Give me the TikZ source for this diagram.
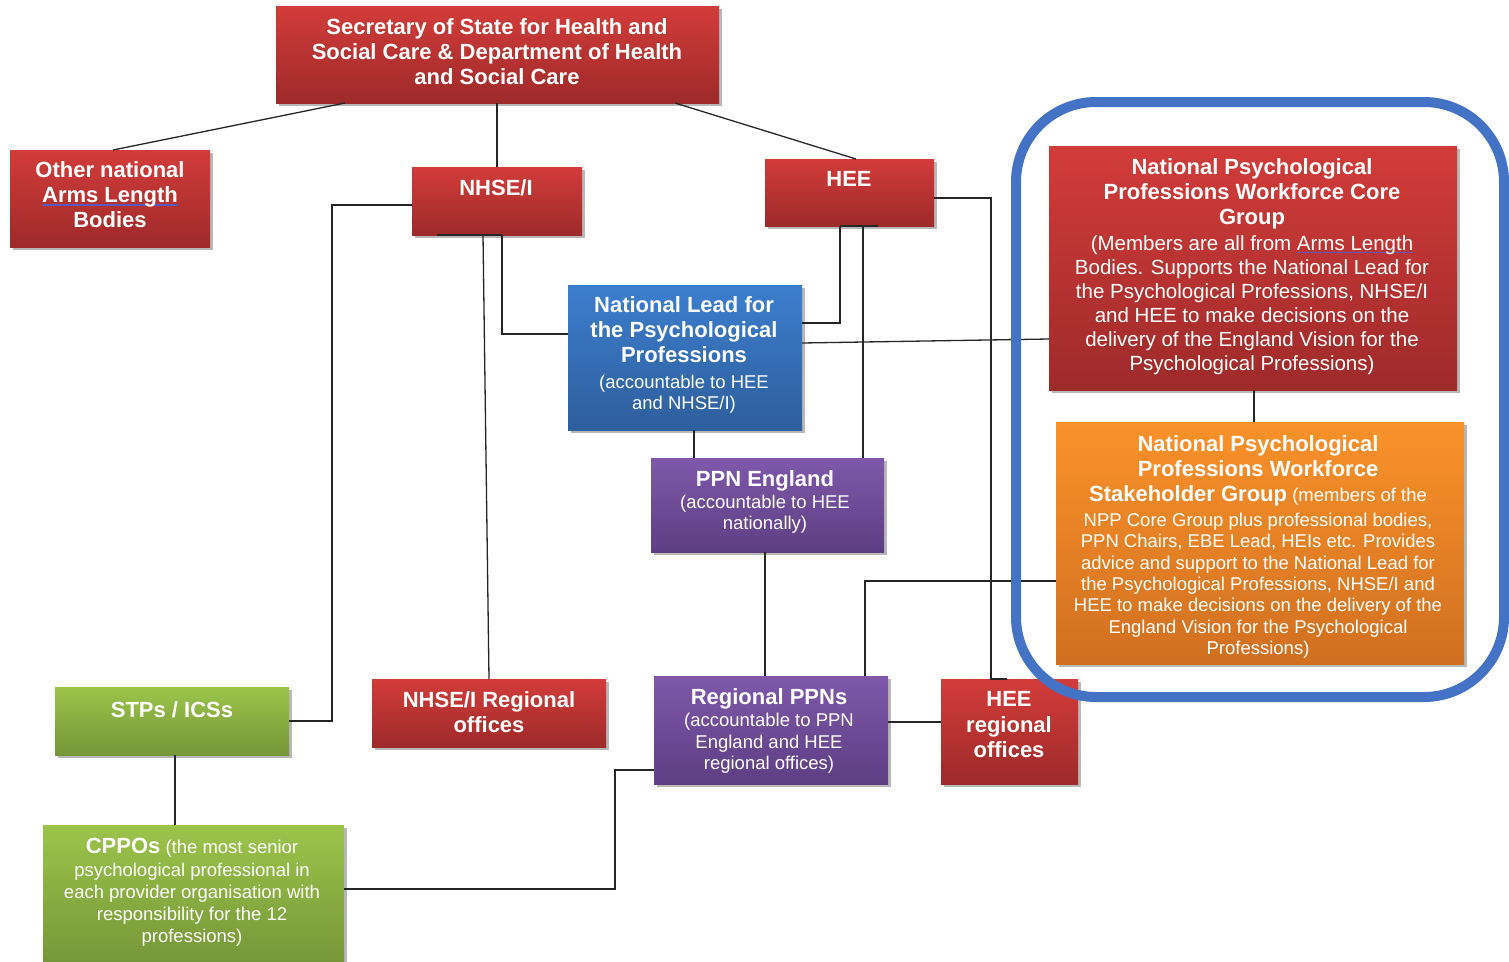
\documentclass[tikz,border=0pt]{standalone}
\usepackage{fontspec}
\setmainfont{Liberation Sans}
\usetikzlibrary{shadows}
\definecolor{redT}{RGB}{210,60,58}
\definecolor{redB}{RGB}{158,42,42}
\definecolor{blueT}{RGB}{60,126,206}
\definecolor{blueB}{RGB}{46,94,156}
\definecolor{purT}{RGB}{127,88,170}
\definecolor{purB}{RGB}{93,62,131}
\definecolor{orT}{RGB}{250,146,42}
\definecolor{orB}{RGB}{208,111,32}
\definecolor{grT}{RGB}{156,196,74}
\definecolor{grB}{RGB}{117,150,56}
\definecolor{frameblue}{RGB}{68,114,196}
\definecolor{ulc}{RGB}{90,90,190}
\newcommand\hdfont{\fontsize{22}{25}\selectfont\bfseries}
\newcommand\bdfont{\fontsize{18.5}{21.3}\selectfont}
\newsavebox\myulbox
\newcommand\spellul[1]{\leavevmode\sbox\myulbox{#1}\rlap{\textcolor{ulc}{\rule[-0.3ex]{\wd\myulbox}{1.6pt}}}\usebox\myulbox}
\begin{document}
\begin{tikzpicture}[x=1pt,y=-1pt,
  box/.style={anchor=north west, inner sep=0pt, outer sep=0pt, draw=none,
    drop shadow={shadow xshift=2.5pt, shadow yshift=-3pt, opacity=0.28, fill=black}},
  redbox/.style={box, top color=redT, bottom color=redB},
  bluebox/.style={box, top color=blueT, bottom color=blueB},
  purbox/.style={box, top color=purT, bottom color=purB},
  orbox/.style={box, top color=orT, bottom color=orB},
  grbox/.style={box, top color=grT, bottom color=grB},
  txt/.style={text=white, align=center, inner sep=0pt, anchor=north},
  hd/.style={txt, font=\hdfont},
  bd/.style={txt, font=\bdfont},
  conn/.style={draw=black!85, line width=1.3pt},
  grpframe/.style={draw=frameblue, line width=10pt, rounded corners=80pt, inner sep=0pt, outer sep=0pt, anchor=north west}
]
\useasboundingbox (0,0) rectangle (1509,961);

% boxes
\node[redbox, minimum width=443pt, minimum height=97pt] (sec) at (276,6) {};
\node[redbox, minimum width=200pt, minimum height=97pt] (oth) at (10,150) {};
\node[redbox, minimum width=170pt, minimum height=68pt] (nhse) at (412,167) {};
\node[redbox, minimum width=169pt, minimum height=67pt] (hee) at (765,159) {};
\node[bluebox, minimum width=234pt, minimum height=145pt] (nl) at (568,285) {};
\node[purbox, minimum width=233pt, minimum height=94pt] (ppne) at (651,458) {};
\node[redbox, minimum width=408pt, minimum height=244pt] (core) at (1049,146) {};
\node[orbox, minimum width=408pt, minimum height=242pt] (stake) at (1056,422) {};
\node[grbox, minimum width=234pt, minimum height=68pt] (stp) at (55,687) {};
\node[redbox, minimum width=234pt, minimum height=68pt] (nreg) at (372,679) {};
\node[purbox, minimum width=234pt, minimum height=108pt] (rppn) at (654,676) {};
\node[redbox, minimum width=137pt, minimum height=105pt] (hreg) at (941,679) {};
\node[grbox, minimum width=301pt, minimum height=140pt] (cppo) at (43,825) {};

% texts
\node[hd] (sect) at (497,18.4) {Secretary of State for Health and\\Social Care \& Department of Health\\and Social Care};
\node[hd] (otht) at (110,161.4) {Other national\\\spellul{Arms Length}\\Bodies};
\node[hd] (nhset) at (496,179.4) {NHSE/I};
\node[hd] (heet) at (849,171.4) {HEE};
\node[hd] (nlt) at (684,296.4) {National Lead for\\the Psychological\\Professions};
\node[bd] (nlb) at (684,374.8) {(accountable to HEE\\and NHSE/I)};
\node[hd] (ppnet) at (765,470.4) {PPN England};
\node[bd] (ppneb) at (765,494.8) {(accountable to HEE\\nationally)};
\node[hd] (coret) at (1252,158.4) {National Psychological\\Professions Workforce Core\\Group};
\node[txt, font=\fontsize{20.5}{24}\selectfont] (coreb) at (1252,235) {(Members are all from \spellul{Arms Length}\\Bodies. Supports the National Lead for\\the Psychological Professions, NHSE/I\\and HEE to make decisions on the\\delivery of the England Vision for the\\Psychological Professions)};
\node[bd] (staket) at (1258,435.4) {{\hdfont National Psychological}\\[3.7pt]{\hdfont Professions Workforce}\\[3.7pt]{\hdfont Stakeholder Group} (members of the\\[3.7pt]NPP Core Group plus professional bodies,\\PPN Chairs, EBE Lead, HEIs etc. Provides\\advice and support to the National Lead for\\the Psychological Professions, NHSE/I and\\HEE to make decisions on the delivery of the\\England Vision for the Psychological\\Professions)};
\node[hd] (stpt) at (172,701.4) {STPs / ICSs};
\node[hd] (nregt) at (489,691.4) {NHSE/I Regional\\offices};
\node[hd] (rppnt) at (769,688.4) {Regional PPNs};
\node[txt, font=\fontsize{18.5}{21.7}\selectfont] (rppnb) at (769,712.8) {(accountable to PPN\\England and HEE\\regional offices)};
\node[txt, font=\fontsize{22}{25.5}\selectfont\bfseries] (hregt) at (1009,691.4) {HEE\\regional\\offices};
\node[txt, font=\fontsize{18.5}{21.7}\selectfont] (cppot) at (192,838.4) {{\hdfont CPPOs} (the most senior\\[1.3pt]psychological professional in\\each provider organisation with\\responsibility for the 12\\professions)};

% connectors
\draw[conn] (345,0 |- sec.south) -- (113,0 |- oth.north);
\draw[conn] (497,0 |- sec.south) -- (497,0 |- nhse.north);
\draw[conn] (675,0 |- sec.south) -- (856,0 |- hee.north);
\draw[conn] (nhse.west |- 0,205) -| (332,721) -- (stp.east);
\draw[conn] (437,0 |- nhse.south) -- (502,0 |- nhse.south);
\draw[conn] (483,0 |- nhse.south) -- (489,0 |- nreg.north);
\draw[conn] (502,0 |- nhse.south) |- (nl.west |- 0,334);
\draw[conn] (840,0 |- hee.south) -- (878,0 |- hee.south);
\draw[conn] (840,0 |- hee.south) |- (nl.east |- 0,323);
\draw[conn] (863,0 |- hee.south) -- (863,0 |- ppne.north);
\draw[conn] (hee.east |- 0,198) -| (991,0 |- hreg.north) -- (1007,0 |- hreg.north);
\draw[conn] (nl.east |- 0,343) -- (core.west |- 0,339);
\draw[conn] (694,0 |- nl.south) -- (694,0 |- ppne.north);
\draw[conn] (765,0 |- ppne.south) -- (765,0 |- rppn.north);
\draw[conn] (1254,0 |- core.south) -- (1254,0 |- stake.north);
\draw[conn] (stake.west |- 0,581) -| (865,0 |- rppn.north);
\draw[conn] (rppn.east |- 0,722) -- (hreg.west |- 0,722);
\draw[conn] (175,0 |- stp.south) -- (175,0 |- cppo.north);
\draw[conn] (cppo.east |- 0,889) -| (615,770) -- (rppn.west |- 0,770);

% group frame
\node[grpframe, minimum width=488pt, minimum height=595pt] (grp) at (1016,102) {};
\end{tikzpicture}
\end{document}
